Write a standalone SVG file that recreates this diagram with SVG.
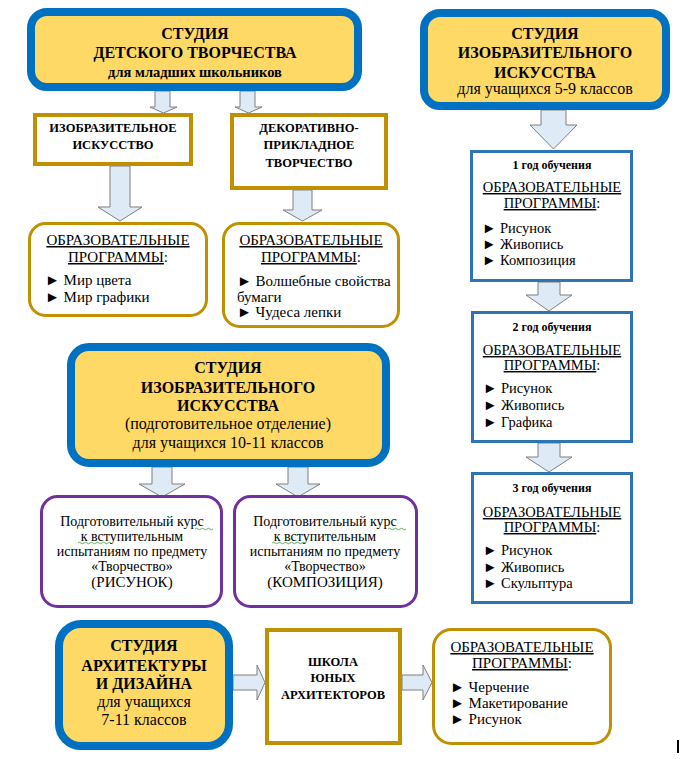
<svg xmlns="http://www.w3.org/2000/svg" width="685" height="759" viewBox="0 0 685 759" font-family="'Liberation Serif', Tinos, 'DejaVu Serif', serif">
<style>
text{font-family:"Liberation Serif",Tinos,"Times New Roman","DejaVu Serif",serif;fill:#000;}
.b16{font-size:16px;font-weight:bold;text-anchor:middle;}
.b12{font-size:12.5px;font-weight:bold;text-anchor:middle;}
.y12{font-size:12px;font-weight:bold;text-anchor:middle;}
.b14{font-size:14.5px;font-weight:bold;text-anchor:middle;}
.r16{font-size:16px;text-anchor:middle;}
.r15{font-size:15px;text-anchor:middle;}
.r14{font-size:14px;text-anchor:middle;}
.p15{font-size:15px;text-anchor:middle;}
.p14{font-size:14.5px;text-anchor:middle;}
.l15{font-size:15px;}
.l14{font-size:14.5px;}
.u{text-decoration:underline;}
.studio{fill:#FFD966;stroke:#0070C0;stroke-width:8;}
.gold{fill:#fff;stroke:#BF9000;stroke-width:4;}
.goldr{fill:#fff;stroke:#BF9000;stroke-width:3;}
.blue{fill:#fff;stroke:#2E75B6;stroke-width:3;}
.purple{fill:#fff;stroke:#7030A0;stroke-width:3;}
.arrow{fill:#DEEBF7;stroke:#7F7F7F;stroke-width:1;}
.sq{fill:none;stroke:#3A9A3A;stroke-width:0.8;}
</style>

<g id="connectors">
<polygon class="arrow" points="155,91 170,91 170,107 177,107 163.5,113 150,107 155,107"/>
<polygon class="arrow" points="240,91 255,91 255,107 262,107 248.5,113 235,107 240,107"/>
<polygon class="arrow" points="110,166 130,166 130,207 142,207 120,221 98,207 110,207"/>
<polygon class="arrow" points="293,190 312,190 312,210 322,210 302.5,221 283,210 293,210"/>
<polygon class="arrow" points="541,110 566,110 566,125 577,125 553.5,149 530,125 541,125"/>
<polygon class="arrow" points="538,282 560,282 560,295 572,295 549,311 526,295 538,295"/>
<polygon class="arrow" points="538,443 560,443 560,457 572,457 549,472 526,457 538,457"/>
<polygon class="arrow" points="152,467 172,467 172,484 185,484 162,497 139,484 152,484"/>
<polygon class="arrow" points="288,467 308,467 308,484 320,484 298,497 276,484 288,484"/>
<polygon class="arrow" points="233,675 257,675 257,665 265,682.5 257,700 257,690 233,690"/>
<polygon class="arrow" points="402,675 423,675 423,665 432,682.5 423,700 423,690 402,690"/>
</g>

<g id="studio-children">
<rect class="studio" x="31" y="12" width="327" height="75" rx="16"/>
<text class="b16" x="195" y="39">СТУДИЯ</text>
<text class="b16" x="195" y="58">ДЕТСКОГО ТВОРЧЕСТВА</text>
<text class="b14" x="195" y="77">для младших школьников</text>
</g>

<g id="studio-fine-arts-5-9">
<rect class="studio" x="424" y="13" width="242" height="93" rx="16"/>
<text class="b16" x="545" y="39">СТУДИЯ</text>
<text class="b16" x="545" y="58">ИЗОБРАЗИТЕЛЬНОГО</text>
<text class="b16" x="545" y="78">ИСКУССТВА</text>
<text class="r16" x="545" y="94">для учащихся 5-9 классов</text>
</g>

<g id="fine-arts">
<rect class="gold" x="35" y="115" width="156" height="49"/>
<text class="b12" x="113" y="132">ИЗОБРАЗИТЕЛЬНОЕ</text>
<text class="b12" x="113" y="149">ИСКУССТВО</text>
</g>

<g id="decorative">
<rect class="gold" x="232" y="115" width="154" height="73"/>
<text class="b12" x="309" y="132">ДЕКОРАТИВНО-</text>
<text class="b12" x="309" y="149">ПРИКЛАДНОЕ</text>
<text class="b12" x="309" y="167">ТВОРЧЕСТВО</text>
</g>

<g id="programs-fine-arts">
<rect class="goldr" x="29.5" y="223.5" width="177" height="92" rx="16"/>
<text class="p15 u" x="118" y="245">ОБРАЗОВАТЕЛЬНЫЕ</text>
<text class="p15" x="118" y="262"><tspan class="u">ПРОГРАММЫ</tspan>:</text>
<text class="l15" x="45" y="285">► Мир цвета</text>
<text class="l15" x="45" y="302">► Мир графики</text>
</g>

<g id="programs-decorative">
<rect class="goldr" x="223.5" y="223.5" width="175" height="103" rx="16"/>
<text class="p15 u" x="311" y="245">ОБРАЗОВАТЕЛЬНЫЕ</text>
<text class="p15" x="311" y="262"><tspan class="u">ПРОГРАММЫ</tspan>:</text>
<text class="l15" x="237" y="286">► Волшебные свойства</text>
<text class="l15" x="237" y="302">бумаги</text>
<text class="l15" x="237" y="317">► Чудеса лепки</text>
</g>

<g id="year-1">
<rect class="blue" x="471.5" y="151.5" width="160" height="129"/>
<text class="y12" x="552" y="169">1 год обучения</text>
<text class="p14 u" x="552" y="192">ОБРАЗОВАТЕЛЬНЫЕ</text>
<text class="p14" x="552" y="208"><tspan class="u">ПРОГРАММЫ</tspan>:</text>
<text class="l14" x="482" y="233">► Рисунок</text>
<text class="l14" x="482" y="249">► Живопись</text>
<text class="l14" x="482" y="265">► Композиция</text>
</g>

<g id="year-2">
<rect class="blue" x="472.5" y="312.5" width="159" height="129"/>
<text class="y12" x="552" y="331">2 год обучения</text>
<text class="p14 u" x="552" y="355">ОБРАЗОВАТЕЛЬНЫЕ</text>
<text class="p14" x="552" y="370"><tspan class="u">ПРОГРАММЫ</tspan>:</text>
<text class="l14" x="483" y="393">► Рисунок</text>
<text class="l14" x="483" y="410">►  Живопись</text>
<text class="l14" x="483" y="427">►  Графика</text>
</g>

<g id="year-3">
<rect class="blue" x="472.5" y="473.5" width="159" height="129"/>
<text class="y12" x="552" y="492">3 год обучения</text>
<text class="p14 u" x="552" y="517">ОБРАЗОВАТЕЛЬНЫЕ</text>
<text class="p14" x="552" y="532"><tspan class="u">ПРОГРАММЫ</tspan>:</text>
<text class="l14" x="483" y="555">► Рисунок</text>
<text class="l14" x="483" y="572">►  Живопись</text>
<text class="l14" x="483" y="588">►  Скульптура</text>
</g>

<g id="studio-fine-arts-prep">
<rect class="studio" x="71" y="347" width="315" height="116" rx="18"/>
<text class="b16" x="228" y="373">СТУДИЯ</text>
<text class="b16" x="228" y="393">ИЗОБРАЗИТЕЛЬНОГО</text>
<text class="b16" x="228" y="411">ИСКУССТВА</text>
<text class="r16" x="228" y="429">(подготовительное отделение)</text>
<text class="r16" x="228" y="448">для учащихся 10-11 классов</text>
</g>

<g id="course-drawing">
<rect class="purple" x="41.5" y="496.5" width="180" height="110" rx="16"/>
<text class="r14" x="132" y="526">Подготовительный курс</text>
<text class="r14" x="132" y="541">к вступительным</text>
<text class="r14" x="132" y="556">испытаниям по предмету</text>
<text class="r14" x="132" y="571">«Творчество»</text>
<text class="r15" x="132" y="587">(РИСУНОК)</text>
<path class="sq" d="M195,529 q1.5,-1.5 3,0 t3,0 t3,0 t3,0 t3,0 t3,0"/>
<path class="sq" d="M78,543 q1.5,-1.5 3,0 t3,0 t3,0 t3,0 t3,0 t3,0 t3,0 t3,0 t3,0 t3,0 t3,0"/>
</g>

<g id="course-composition">
<rect class="purple" x="234.5" y="496.5" width="182" height="110" rx="16"/>
<text class="r14" x="325" y="526">Подготовительный курс</text>
<text class="r14" x="325" y="541">к вступительным</text>
<text class="r14" x="325" y="556">испытаниям по предмету</text>
<text class="r14" x="325" y="571">«Творчество»</text>
<text class="r15" x="325" y="587">(КОМПОЗИЦИЯ)</text>
<path class="sq" d="M388,529 q1.5,-1.5 3,0 t3,0 t3,0 t3,0 t3,0 t3,0"/>
<path class="sq" d="M272,543 q1.5,-1.5 3,0 t3,0 t3,0 t3,0 t3,0 t3,0 t3,0 t3,0 t3,0 t3,0 t3,0"/>
</g>

<g id="studio-architecture">
<rect class="studio" x="59" y="624" width="170" height="122" rx="22"/>
<text class="b16" x="144" y="651">СТУДИЯ</text>
<text class="b16" x="144" y="671">АРХИТЕКТУРЫ</text>
<text class="b16" x="144" y="689">И ДИЗАЙНА</text>
<text class="r16" x="144" y="707">для учащихся</text>
<text class="r16" x="144" y="725">7-11 классов</text>
</g>

<g id="school-architects">
<rect class="gold" x="267" y="630" width="133" height="113"/>
<text class="b12" x="333" y="666">ШКОЛА</text>
<text class="b12" x="333" y="682">ЮНЫХ</text>
<text class="b12" x="333" y="699">АРХИТЕКТОРОВ</text>
</g>

<g id="programs-architecture">
<rect class="goldr" x="433.5" y="629.5" width="177" height="114" rx="18"/>
<text class="p15 u" x="522" y="652">ОБРАЗОВАТЕЛЬНЫЕ</text>
<text class="p15" x="522" y="668"><tspan class="u">ПРОГРАММЫ</tspan>:</text>
<text class="l15" x="450" y="692">► Черчение</text>
<text class="l15" x="450" y="708">► Макетирование</text>
<text class="l15" x="450" y="724">► Рисунок</text>
</g>

<rect x="677" y="740" width="2" height="13" fill="#000"/>
</svg>
